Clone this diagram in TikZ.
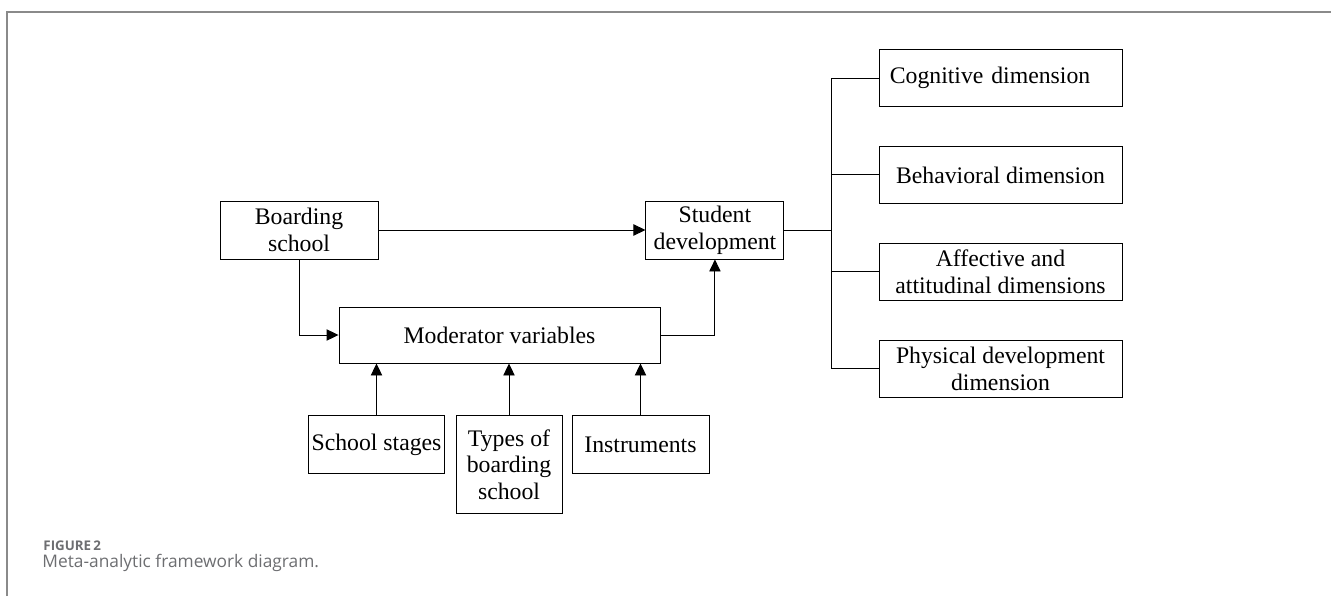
\documentclass[tikz,border=0pt]{standalone}
\usepackage{fontspec}
\setmainfont{Liberation Serif}
\newfontfamily\captionfont{Open Sans}
\usetikzlibrary{arrows.meta,positioning}
\definecolor{framegray}{HTML}{8A8A8A}
\definecolor{captiongray}{HTML}{6D6E71}
\tikzset{
    box/.style={
        rectangle, draw,
        align=center,
        inner sep=2pt,
        font=\fontsize{17.8}{20}\selectfont,
    },
    dimbox/.style={
        box,
        minimum width=182.25pt,
        minimum height=43pt,
    },
    line/.style={
        draw, -{Triangle[length=9pt,width=8.5pt]},
    },
    caption/.style={
        anchor=base west, inner sep=0, text=captiongray,
    },
}

\begin{document}
\begin{tikzpicture}[x=0.75pt,y=-0.75pt,line width=0.7pt]
                \useasboundingbox (0,0) rectangle (1331,596);
                \draw[framegray,line width=0.9pt] (7,596) -- (7,12) -- (1331,12);
                % main row
                \node [box, minimum width=118.5pt, minimum height=43.5pt] (boarding) at (299,230) {Boarding\\school};
                \node [box, minimum width=103.5pt, minimum height=43.5pt, right=200.25pt of boarding] (student) {Student\\development};
                \node [box, minimum width=240.75pt, minimum height=42pt] (moderator) at (499.5,335) {Moderator variables};
                % moderators
                \node [box, anchor=north, minimum width=101.25pt, minimum height=43.5pt] (stages) at (376.5,415) {School stages};
                \node [box, anchor=north, minimum width=79.5pt, minimum height=73.5pt] (types) at (509,415) {Types of\\boarding\\school};
                \node [box, anchor=north, minimum width=102.75pt, minimum height=43.5pt] (instruments) at (640.5,415) {Instruments};
                % dimensions
                \node [dimbox, align=left, text width=166pt] (cognitive) at (1000.5,78) {Cognitive dimension};
                \node [dimbox, below=29pt of cognitive] (behavioral) {Behavioral dimension};
                \node [dimbox, below=29pt of behavioral] (affective) {Affective and\\attitudinal dimensions};
                \node [dimbox, below=29pt of affective] (physical) {Physical development\\dimension};
                \coordinate [right=35.25pt of student] (hub);
                % connectors
                \draw[line] (boarding) -- (student);
                \draw[line] (boarding) |- (moderator);
                \draw[line] (moderator) -| (student);
                \foreach \m in {stages,types,instruments}
                    \draw[line] (\m) -- (\m |- moderator.south);
                \draw (student) -- (hub);
                \draw (hub |- cognitive) -- (hub |- physical);
                \foreach \d in {cognitive,behavioral,affective,physical}
                    \draw (hub |- \d) -- (\d);
                % caption
                \node [caption, font=\captionfont\bfseries\fontsize{10}{12}\selectfont] (figlabel) at (43,550) {FIGURE\,2};
                \node [caption, font=\captionfont\fontsize{13}{15}\selectfont] (figtext) at (42,567) {Meta-analytic framework diagram.};
            \end{tikzpicture}
\end{document}
